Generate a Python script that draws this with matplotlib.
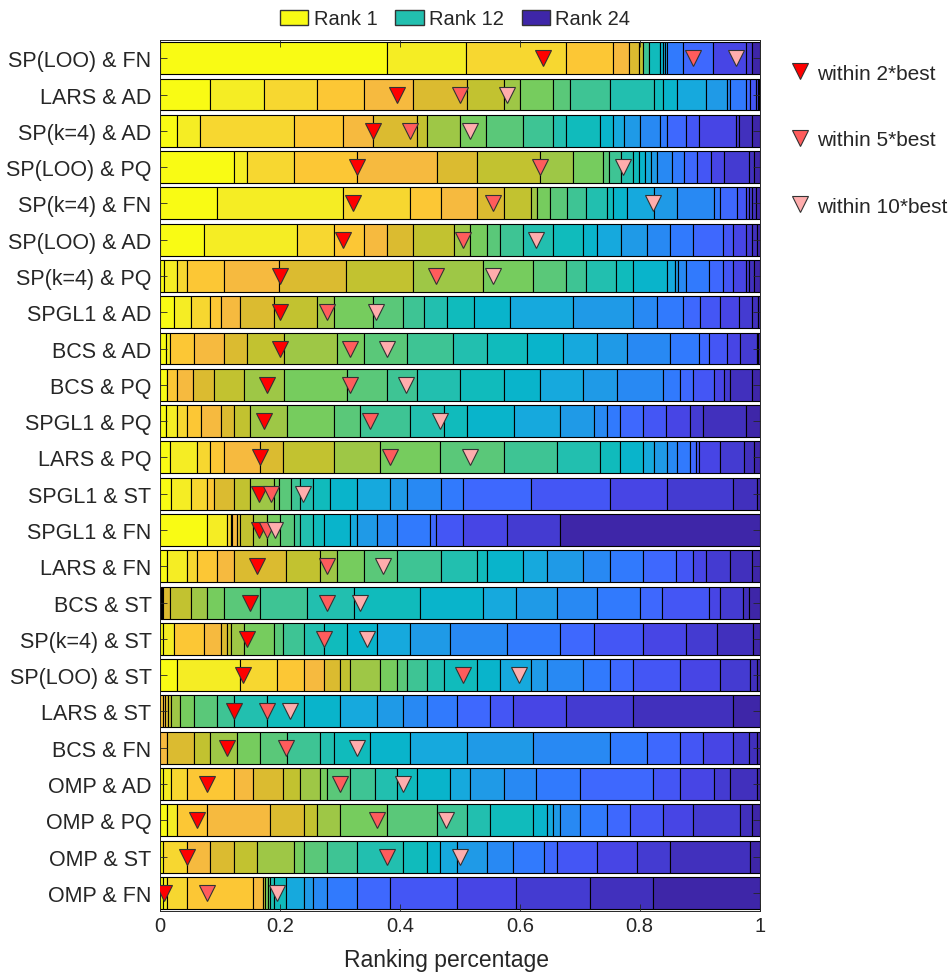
import numpy as np
import matplotlib
matplotlib.use("Agg")
import matplotlib.pyplot as plt
from matplotlib.colors import LinearSegmentedColormap
from matplotlib.lines import Line2D
from matplotlib.patches import Patch

plt.rcParams["font.family"] = ["Liberation Sans", "DejaVu Sans"]

# method / basis combinations, top row first
methods = [
    "SP(LOO) & FN", "LARS & AD", "SP(k=4) & AD", "SP(LOO) & PQ", "SP(k=4) & FN",
    "SP(LOO) & AD", "SP(k=4) & PQ", "SPGL1 & AD", "BCS & AD", "BCS & PQ",
    "SPGL1 & PQ", "LARS & PQ", "SPGL1 & ST", "SPGL1 & FN", "LARS & FN",
    "BCS & ST", "SP(k=4) & ST", "SP(LOO) & ST", "LARS & ST", "BCS & FN",
    "OMP & AD", "OMP & PQ", "OMP & ST", "OMP & FN",
]

# cumulative share of ranks 1..24 for each row
cum_share = [
    [.378, .511, .677, .755, .782, .799, .805, .805, .805, .805, .816, .816, .833, .838, .842, .845, .845, .872, .922, .922, .977, .988, .988, 1.0],
    [.084, .173, .262, .340, .422, .512, .573, .601, .656, .684, .750, .823, .838, .862, .911, .945, .950, .977, .984, .994, .997, .999, 1.0, 1.0],
    [.028, .067, .223, .306, .356, .428, .445, .501, .544, .606, .656, .677, .734, .755, .773, .801, .834, .845, .877, .899, .960, .966, .988, 1.0],
    [.123, .145, .223, .328, .462, .528, .633, .689, .739, .749, .768, .789, .799, .808, .818, .828, .854, .873, .895, .918, .940, .982, .990, 1.0],
    [.095, .306, .417, .468, .528, .573, .618, .628, .651, .679, .711, .745, .755, .778, .823, .862, .923, .933, .962, .977, .982, .988, .994, 1.0],
    [.073, .229, .290, .340, .379, .422, .490, .517, .545, .567, .606, .656, .706, .728, .768, .812, .851, .889, .938, .956, .977, .988, .995, 1.0],
    [.006, .028, .045, .106, .199, .311, .422, .539, .622, .677, .711, .761, .789, .845, .858, .864, .877, .916, .938, .956, .977, .982, .990, 1.0],
    [.023, .051, .084, .101, .134, .190, .262, .290, .356, .406, .440, .479, .523, .583, .689, .789, .828, .872, .901, .933, .966, .988, .997, 1.0],
    [.010, .016, .016, .056, .106, .145, .207, .295, .340, .412, .489, .545, .612, .672, .729, .778, .851, .899, .916, .945, .967, .995, .998, 1.0],
    [.011, .011, .011, .028, .055, .090, .140, .207, .312, .379, .428, .501, .573, .633, .706, .762, .838, .867, .889, .923, .940, .950, .988, 1.0],
    [.010, .028, .045, .068, .101, .123, .150, .212, .290, .334, .417, .473, .512, .590, .667, .723, .745, .767, .806, .844, .884, .906, .977, 1.0],
    [.016, .062, .084, .106, .167, .206, .290, .367, .467, .573, .662, .734, .767, .806, .823, .845, .862, .884, .894, .899, .934, .973, .990, 1.0],
    [.018, .051, .078, .090, .090, .123, .151, .190, .199, .218, .234, .256, .284, .329, .384, .412, .468, .506, .618, .750, .845, .956, .995, 1.0],
    [.078, .112, .118, .120, .128, .134, .156, .179, .200, .223, .234, .256, .273, .317, .329, .362, .395, .450, .461, .506, .578, .667, .667, 1.0],
    [.012, .045, .062, .095, .123, .211, .267, .295, .340, .395, .468, .528, .545, .606, .645, .706, .750, .806, .861, .889, .911, .950, .988, 1.0],
    [.000, .000, .002, .003, .005, .016, .051, .078, .106, .167, .245, .323, .434, .539, .594, .662, .728, .801, .837, .916, .933, .972, .982, 1.0],
    [.005, .023, .023, .073, .101, .112, .118, .140, .190, .206, .240, .273, .312, .362, .417, .484, .578, .667, .723, .806, .877, .928, .989, 1.0],
    [.028, .134, .195, .240, .273, .301, .317, .367, .395, .412, .445, .473, .528, .567, .618, .645, .706, .750, .789, .867, .933, .984, .996, 1.0],
    [.000, .000, .000, .005, .009, .013, .018, .034, .056, .095, .123, .179, .240, .301, .362, .406, .445, .495, .551, .589, .677, .789, .956, 1.0],
    [.000, .000, .000, .000, .012, .056, .084, .128, .167, .212, .267, .290, .351, .417, .512, .622, .750, .812, .867, .906, .956, .982, .995, 1.0],
    [.005, .018, .045, .123, .156, .206, .234, .267, .278, .317, .358, .395, .429, .484, .517, .573, .627, .700, .822, .867, .923, .950, .995, 1.0],
    [.012, .028, .028, .079, .184, .240, .262, .301, .379, .462, .512, .551, .622, .645, .656, .667, .701, .745, .784, .839, .889, .967, .988, 1.0],
    [.005, .005, .045, .045, .084, .123, .162, .223, .240, .278, .329, .406, .445, .467, .495, .545, .589, .640, .662, .728, .795, .850, .983, 1.0],
    [.005, .012, .045, .156, .172, .172, .176, .176, .180, .184, .184, .190, .211, .211, .240, .256, .278, .328, .384, .495, .594, .717, .822, 1.0],
]

# ranking percentage reached within 2x, 5x, 10x of the best
within_2 = [.638, .395, .356, .328, .322, .306, .200, .200, .200, .178, .173, .167,
            .166, .166, .162, .151, .145, .139, .123, .112, .079, .062, .045, .006]
within_5 = [.889, .501, .417, .633, .556, .505, .461, .278, .317, .317, .351, .383,
            .185, .179, .278, .278, .273, .505, .178, .211, .301, .362, .378, .078]
within_10 = [.961, .578, .517, .772, .822, .627, .555, .361, .378, .411, .467, .517,
             .239, .192, .372, .334, .345, .599, .217, .328, .406, .477, .500, .195]

# parula-like colormap (rank 24 -> 0, rank 1 -> 1)
parula = LinearSegmentedColormap.from_list("parula_like", [
    (0.00, (0.2422, 0.1504, 0.6603)),
    (0.13, (0.28, 0.27, 0.90)),
    (0.20, (0.26, 0.38, 1.00)),
    (0.26, (0.19, 0.48, 0.99)),
    (0.39, (0.09, 0.66, 0.87)),
    (0.45, (0.02, 0.72, 0.77)),
    (0.52, (0.13, 0.75, 0.69)),
    (0.65, (0.46, 0.80, 0.37)),
    (0.74, (0.76, 0.76, 0.19)),
    (0.79, (0.87, 0.73, 0.19)),
    (0.83, (0.97, 0.73, 0.25)),
    (0.87, (0.99, 0.78, 0.21)),
    (0.913, (0.97, 0.84, 0.19)),
    (0.957, (0.96, 0.93, 0.14)),
    (1.00, (0.976, 0.984, 0.08)),
])

n_rank = 24
cum = np.array(cum_share)
widths = np.diff(np.hstack([np.zeros((cum.shape[0], 1)), cum]), axis=1)
lefts = cum - widths
ypos = np.arange(len(methods), 0, -1)

fig = plt.figure(figsize=(9.52, 9.78), dpi=100)
ax = fig.add_axes([0.168, 0.0675, 0.63, 0.8905])

for k in range(n_rank):
    w = widths[:, k]
    lw = np.where(w > 1e-9, 0.8, 0.0)
    ax.barh(ypos, w, left=lefts[:, k], height=0.88,
            color=parula((n_rank - 1 - k) / (n_rank - 1)),
            edgecolor="black", linewidth=lw)

mk = dict(marker="v", markersize=11, markeredgecolor="#333333",
          markeredgewidth=0.8, linestyle="none", zorder=5)
c2, c5, c10 = (1.0, 0.0, 0.0), (1.0, 0.36, 0.36), (1.0, 0.68, 0.68)
ax.plot(within_2, ypos, color=c2, **mk)
ax.plot(within_5, ypos, color=c5, **mk)
ax.plot(within_10, ypos, color=c10, **mk)

txt = "#262626"
ax.set_xlim(0, 1)
ax.set_ylim(0.5, len(methods) + 0.5)
ax.set_yticks(ypos)
ax.set_yticklabels(methods, fontsize=15.5, color=txt)
ax.set_xticks([0, 0.2, 0.4, 0.6, 0.8, 1])
ax.set_xticklabels(["0", "0.2", "0.4", "0.6", "0.8", "1"], fontsize=14.5, color=txt)
ax.set_xlabel("Ranking percentage", fontsize=16.5, color=txt)
ax.xaxis.set_label_coords(0.478, -0.043)
ax.tick_params(direction="in", top=True, right=True, length=5,
               color=txt, width=0.6)
ax.tick_params(axis="y", pad=6)
for s in ax.spines.values():
    s.set_color(txt)
    s.set_linewidth(0.7)

# top legend for rank colours
rank_handles = [
    Patch(facecolor=parula(1.0), edgecolor="#333333", label="Rank 1"),
    Patch(facecolor=parula(12 / 23), edgecolor="#333333", label="Rank 12"),
    Patch(facecolor=parula(0.0), edgecolor="#333333", label="Rank 24"),
]
fig.legend(handles=rank_handles, loc="upper center", bbox_to_anchor=(0.478, 1.008),
           ncol=3, frameon=False, fontsize=14.5, handlelength=1.4, handleheight=0.75,
           handletextpad=0.25, columnspacing=0.9, labelcolor=txt)

# marker legend on the right
mark_handles = [
    Line2D([], [], color=c2, marker="v", markersize=11, markeredgecolor="#333333",
           markeredgewidth=0.8, linestyle="none", label="within 2*best"),
    Line2D([], [], color=c5, marker="v", markersize=11, markeredgecolor="#333333",
           markeredgewidth=0.8, linestyle="none", label="within 5*best"),
    Line2D([], [], color=c10, marker="v", markersize=11, markeredgecolor="#333333",
           markeredgewidth=0.8, linestyle="none", label="within 10*best"),
]
ax.legend(handles=mark_handles, loc="upper left", bbox_to_anchor=(1.05, 0.973),
          frameon=False, fontsize=15, handlelength=1.0, handletextpad=0.3,
          labelspacing=2.28, borderaxespad=0, borderpad=0, labelcolor=txt)

fig.savefig("out.png", dpi=100)
